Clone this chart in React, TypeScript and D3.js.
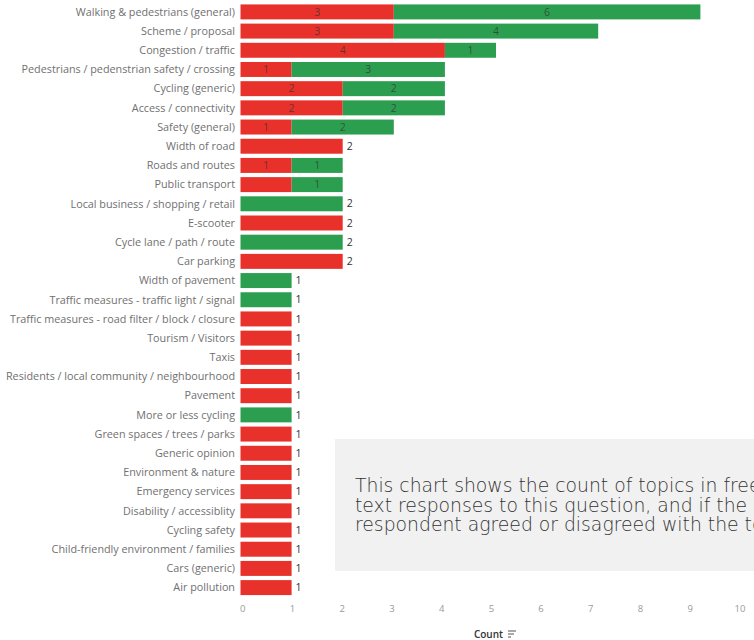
import React from "react";
import * as d3 from "d3";

const categories = [
  "Walking & pedestrians (general)",
  "Scheme / proposal",
  "Congestion / traffic",
  "Pedestrians / pedenstrian safety / crossing",
  "Cycling (generic)",
  "Access / connectivity",
  "Safety (general)",
  "Width of road",
  "Roads and routes",
  "Public transport",
  "Local business / shopping / retail",
  "E-scooter",
  "Cycle lane / path / route",
  "Car parking",
  "Width of pavement",
  "Traffic measures - traffic light / signal",
  "Traffic measures - road filter / block / closure",
  "Tourism / Visitors",
  "Taxis",
  "Residents / local community / neighbourhood",
  "Pavement",
  "More or less cycling",
  "Green spaces / trees / parks",
  "Generic opinion",
  "Environment & nature",
  "Emergency services",
  "Disability / accessiblity",
  "Cycling safety",
  "Child-friendly environment / families",
  "Cars (generic)",
  "Air pollution",
];

const disagree = [3, 3, 4, 1, 2, 2, 1, 2, 1, 1, 0, 2, 0, 2, 0, 0, 1, 1, 1, 1, 1, 0, 1, 1, 1, 1, 1, 1, 1, 1, 1];
const agree = [6, 4, 1, 3, 2, 2, 2, 0, 1, 1, 2, 0, 2, 0, 1, 1, 0, 0, 0, 0, 0, 1, 0, 0, 0, 0, 0, 0, 0, 0, 0];
// Public transport's red segment label is not shown in the reference
const hideDisagreeLabel = ["Public transport"];

const xTicks = [0, 1, 2, 3, 4, 5, 6, 7, 8, 9, 10];
const noteLines = [
  "This chart shows the count of topics in free",
  "text responses to this question, and if the",
  "respondent agreed or disagreed with the topic.",
];

const RED = "#e8312a";
const GREEN = "#2b9e4f";
const FONT = "'Open Sans', Lato, sans-serif";

export default function App() {
  const width = 754;
  const height = 640;
  const x = d3.scaleLinear().domain([0, 10]).range([240.5, 751.5]);
  const xAxis = d3.scaleLinear().domain([0, 10]).range([242.7, 740]);
  const y = d3
    .scaleBand<string>()
    .domain(categories)
    .range([2.5, 597])
    .paddingInner(0.22)
    .paddingOuter(0.1);
  const bh = y.bandwidth();

  return (
    <svg
      width={width}
      height={height}
      style={{ position: "absolute", left: 0, top: 0, background: "#fff" }}
      fontFamily={FONT}
    >
      {categories.map((c, i) => {
        const yy = y(c)!;
        const r = disagree[i];
        const g = agree[i];
        const cy = yy + bh / 2;
        const both = r > 0 && g > 0;
        return (
          <g key={c}>
            <text
              x={235}
              y={cy}
              dy="0.35em"
              textAnchor="end"
              fontSize={10.8}
              fill="#707070"
            >
              {c}
            </text>
            {r > 0 && (
              <rect x={x(0)} y={yy} width={x(r) - x(0)} height={bh} fill={RED} />
            )}
            {g > 0 && (
              <rect x={x(r)} y={yy} width={x(r + g) - x(r)} height={bh} fill={GREEN} />
            )}
            {both && !hideDisagreeLabel.includes(c) && (
              <text
                x={(x(0) + x(r)) / 2}
                y={cy}
                dy="0.35em"
                textAnchor="middle"
                fontSize={10.5}
                fill="#333"
                fillOpacity={0.7}
              >
                {r}
              </text>
            )}
            {both && (
              <text
                x={(x(r) + x(r + g)) / 2}
                y={cy}
                dy="0.35em"
                textAnchor="middle"
                fontSize={10.5}
                fill="#333"
                fillOpacity={0.7}
              >
                {g}
              </text>
            )}
            {!both && (
              <text
                x={x(r + g) + 4}
                y={cy}
                dy="0.35em"
                textAnchor="start"
                fontSize={10.5}
                fill="#333"
              >
                {r + g}
              </text>
            )}
          </g>
        );
      })}

      {xTicks.map((t) => (
        <text
          key={t}
          x={xAxis(t)}
          y={609}
          dy="0.35em"
          textAnchor="middle"
          fontSize={9.5}
          fill="#9a9a9a"
        >
          {t}
        </text>
      ))}
      <g transform="translate(503,634)">
        <text x={0} y={0} dy="0.35em" textAnchor="end" fontSize={10} fill="#333" fontWeight={600}>
          Count
        </text>
        <line x1={5} x2={13} y1={-3} y2={-3} stroke="#555" strokeWidth={1} />
        <line x1={5} x2={11} y1={0} y2={0} stroke="#555" strokeWidth={1} />
        <line x1={5} x2={8} y1={3} y2={3} stroke="#555" strokeWidth={1} />
      </g>

      <rect x={335} y={439} width={430} height={132} fill="#f1f1f1" />
      {noteLines.map((l, i) => (
        <text
          key={i}
          x={355}
          y={492 + i * 19.5}
          fontSize={18.8}
          fill="#333"
          fontFamily="'DejaVu Sans', sans-serif"
          fontWeight={200}
        >
          {l}
        </text>
      ))}
    </svg>
  );
}
